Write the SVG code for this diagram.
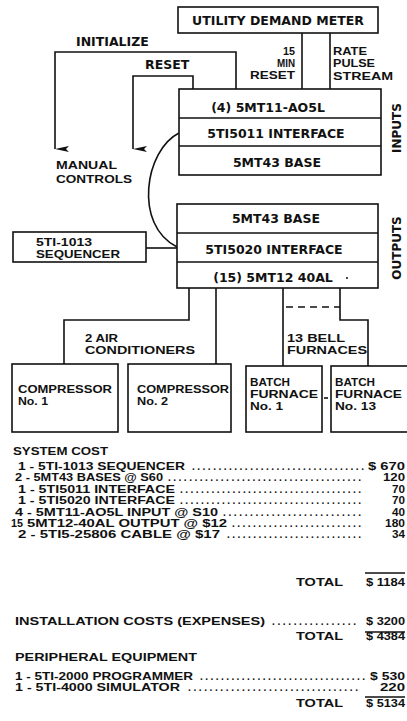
<svg xmlns="http://www.w3.org/2000/svg" width="407" height="721" viewBox="0 0 407 721">
<style>
text { font-family: "DejaVu Sans", "Liberation Sans", sans-serif; font-weight: bold; fill: #111; font-size: 12.5px; }
.s { font-family: "Liberation Sans", "DejaVu Sans", sans-serif; font-size: 10.7px; }
.c { font-family: "Liberation Sans", "DejaVu Sans", sans-serif; font-size: 10.2px; }
.m { text-anchor: middle; }
.r { font-size: 12px; text-anchor: middle; }
.box { fill: #fff; stroke: #111; stroke-width: 1.6; }
.ln { fill: none; stroke: #111; stroke-width: 1.6; }
.dash { fill: none; stroke: #111; stroke-width: 1.6; stroke-dasharray: 7 5; }
</style>
<defs>
<marker id="ar" viewBox="0 0 6 14" refX="3" refY="14" markerWidth="6" markerHeight="14" markerUnits="userSpaceOnUse" orient="auto-start-reverse">
<path d="M0,0 L3,14 L6,0 L3,3 Z" fill="#111"/>
</marker>
</defs>

<g id="connectors">
<path class="ln" d="M302,33 V89"/>
<path class="ln" d="M330,33 V89"/>
<path class="ln" d="M236,89 V52 H55 V149" marker-end="url(#ar)"/>
<path class="ln" d="M193,89 V76 H133 V149" marker-end="url(#ar)"/>
<path class="ln" d="M179,133 C145,150 133,225 177,247"/>
<path class="ln" d="M146,248 H177"/>
<path class="ln" d="M189,288 V320 H64 V364"/>
<path class="ln" d="M216,288 V364"/>
<path class="ln" d="M283,288 V366"/>
<path class="ln" d="M340,288 V320 H368 V366"/>
<path class="dash" d="M286,307 H340"/>
<path class="ln" d="M324,398 H328"/>
</g>

<g id="labels">
<text x="76" y="46">INITIALIZE</text>
<text x="145" y="69">RESET</text>
<text x="283" y="55" class="s" textLength="12" lengthAdjust="spacingAndGlyphs">15</text>
<text x="277" y="67" class="s" textLength="18" lengthAdjust="spacingAndGlyphs">MIN</text>
<text x="250" y="79" class="s" textLength="45" lengthAdjust="spacingAndGlyphs">RESET</text>
<text x="333" y="55" class="s" textLength="34" lengthAdjust="spacingAndGlyphs">RATE</text>
<text x="333" y="67" class="s" textLength="42" lengthAdjust="spacingAndGlyphs">PULSE</text>
<text x="333" y="79.5" class="s" textLength="60" lengthAdjust="spacingAndGlyphs">STREAM</text>
<text x="56" y="169" class="s" textLength="61" lengthAdjust="spacingAndGlyphs">MANUAL</text>
<text x="56" y="183" class="s" textLength="76" lengthAdjust="spacingAndGlyphs">CONTROLS</text>
<text x="85" y="342" class="s" textLength="33" lengthAdjust="spacingAndGlyphs">2 AIR</text>
<text x="85" y="354" class="s" textLength="110" lengthAdjust="spacingAndGlyphs">CONDITIONERS</text>
<text x="287" y="342" class="s" textLength="58" lengthAdjust="spacingAndGlyphs">13 BELL</text>
<text x="287" y="354" class="s" textLength="80" lengthAdjust="spacingAndGlyphs">FURNACES</text>
<text class="r" transform="translate(401,128) rotate(-90)">INPUTS</text>
<text class="r" transform="translate(401,248) rotate(-90)">OUTPUTS</text>
</g>

<g id="meter">
<rect class="box" x="178" y="7" width="200" height="26"/>
<text x="278" y="25" class="m">UTILITY DEMAND METER</text>
</g>

<g id="inputs">
<rect class="box" x="179" y="89" width="202" height="86"/>
<path class="ln" d="M179,118 H381 M179,146 H381"/>
<text x="268" y="112" class="m">(4) 5MT11-AO5L</text>
<text x="276" y="137.5" class="m">5TI5011 INTERFACE</text>
<text x="277" y="167" class="m">5MT43 BASE</text>
</g>

<g id="outputs">
<rect class="box" x="177" y="204" width="201" height="84"/>
<path class="ln" d="M177,233 H378 M177,262 H378"/>
<text x="276" y="223" class="m">5MT43 BASE</text>
<text x="274" y="253.5" class="m">5TI5020 INTERFACE</text>
<text x="273" y="282" class="m">(15) 5MT12 40AL</text>
<circle cx="347" cy="278" r="1" fill="#111"/>
</g>

<g id="sequencer">
<rect class="box" x="13" y="232" width="133" height="30"/>
<text x="36" y="246" class="s" textLength="56" lengthAdjust="spacingAndGlyphs">5TI-1013</text>
<text x="36" y="258" class="s" textLength="84" lengthAdjust="spacingAndGlyphs">SEQUENCER</text>
</g>

<g id="compressor1">
<rect class="box" x="12" y="364" width="106" height="68"/>
<text x="18" y="393" class="s" textLength="94" lengthAdjust="spacingAndGlyphs">COMPRESSOR</text>
<text x="18" y="405" class="s" textLength="30" lengthAdjust="spacingAndGlyphs">No. 1</text>
</g>

<g id="compressor2">
<rect class="box" x="128" y="364" width="103" height="68"/>
<text x="137" y="393" class="s" textLength="92" lengthAdjust="spacingAndGlyphs">COMPRESSOR</text>
<text x="137" y="405" class="s" textLength="31" lengthAdjust="spacingAndGlyphs">No. 2</text>
</g>

<g id="furnace1">
<rect class="box" x="246" y="366" width="76" height="66"/>
<text x="250" y="386" class="s" textLength="40" lengthAdjust="spacingAndGlyphs">BATCH</text>
<text x="250" y="398" class="s" textLength="68" lengthAdjust="spacingAndGlyphs">FURNACE</text>
<text x="250" y="410" class="s" textLength="33" lengthAdjust="spacingAndGlyphs">No. 1</text>
</g>

<g id="furnace13">
<rect class="box" x="331" y="366" width="85" height="66"/>
<text x="335" y="386" class="s" textLength="40" lengthAdjust="spacingAndGlyphs">BATCH</text>
<text x="335" y="398" class="s" textLength="67" lengthAdjust="spacingAndGlyphs">FURNACE</text>
<text x="335" y="410" class="s" textLength="41" lengthAdjust="spacingAndGlyphs">No. 13</text>
</g>

<g id="cost">
<text x="13" y="455" class="c" textLength="95" lengthAdjust="spacingAndGlyphs">SYSTEM COST</text>

<text x="18" y="470" class="c" textLength="167" lengthAdjust="spacingAndGlyphs">1 - 5TI-1013 SEQUENCER</text>
<text x="192" y="470" class="c" textLength="172" lengthAdjust="spacing">.................................</text>
<text x="368" y="470" class="c" textLength="37" lengthAdjust="spacingAndGlyphs">$ 670</text>

<text x="15" y="481.4" class="c" textLength="148" lengthAdjust="spacingAndGlyphs">2 - 5MT43 BASES @ S60</text>
<text x="168" y="481.4" class="c" textLength="193" lengthAdjust="spacing">.....................................</text>
<text x="383" y="481.4" class="c" textLength="22" lengthAdjust="spacingAndGlyphs">120</text>

<text x="18" y="492.8" class="c" textLength="157" lengthAdjust="spacingAndGlyphs">1 - 5TI5011 INTERFACE</text>
<text x="180" y="492.8" class="c" textLength="181" lengthAdjust="spacing">...................................</text>
<text x="392" y="492.8" class="c" textLength="13" lengthAdjust="spacingAndGlyphs">70</text>

<text x="18" y="504.2" class="c" textLength="157" lengthAdjust="spacingAndGlyphs">1 - 5TI5020 INTERFACE</text>
<text x="180" y="504.2" class="c" textLength="181" lengthAdjust="spacing">...................................</text>
<text x="392" y="504.2" class="c" textLength="13" lengthAdjust="spacingAndGlyphs">70</text>

<text x="15" y="515.6" class="c" textLength="203" lengthAdjust="spacingAndGlyphs">4 - 5MT11-AO5L INPUT @ S10</text>
<text x="223" y="515.6" class="c" textLength="138" lengthAdjust="spacing">..........................</text>
<text x="392" y="515.6" class="c" textLength="13" lengthAdjust="spacingAndGlyphs">40</text>

<text x="11" y="527" class="c" textLength="12" lengthAdjust="spacingAndGlyphs">15</text>
<text x="27" y="527" class="c" textLength="200" lengthAdjust="spacingAndGlyphs">5MT12-40AL OUTPUT @ $12</text>
<text x="232" y="527" class="c" textLength="129" lengthAdjust="spacing">.........................</text>
<text x="385" y="527" class="c" textLength="20" lengthAdjust="spacingAndGlyphs">180</text>

<text x="18" y="538.4" class="c" textLength="202" lengthAdjust="spacingAndGlyphs">2 - 5TI5-25806 CABLE @ $17</text>
<text x="227" y="538.4" class="c" textLength="134" lengthAdjust="spacing">..........................</text>
<text x="392" y="538.4" class="c" textLength="13" lengthAdjust="spacingAndGlyphs">34</text>

<path class="ln" d="M365,573 H405"/>
<text x="296" y="586" class="c" textLength="47" lengthAdjust="spacingAndGlyphs">TOTAL</text>
<text x="366" y="586" class="c" textLength="39" lengthAdjust="spacingAndGlyphs">$ 1184</text>

<text x="15" y="625" class="c" textLength="250" lengthAdjust="spacingAndGlyphs">INSTALLATION COSTS (EXPENSES)</text>
<text x="272" y="625" class="c" textLength="84" lengthAdjust="spacing">................</text>
<text x="366" y="625" class="c" textLength="39" lengthAdjust="spacingAndGlyphs">$ 3200</text>
<path class="ln" d="M365,632 H405"/>
<text x="296" y="640" class="c" textLength="47" lengthAdjust="spacingAndGlyphs">TOTAL</text>
<text x="366" y="640" class="c" textLength="39" lengthAdjust="spacingAndGlyphs">$ 4384</text>

<text x="15" y="661" class="c" textLength="182" lengthAdjust="spacingAndGlyphs">PERIPHERAL EQUIPMENT</text>
<text x="15" y="680" class="c" textLength="178" lengthAdjust="spacingAndGlyphs">1 - 5TI-2000 PROGRAMMER</text>
<text x="200" y="680" class="c" textLength="165" lengthAdjust="spacing">................................</text>
<text x="370" y="680" class="c" textLength="35" lengthAdjust="spacingAndGlyphs">$ 530</text>
<text x="15" y="691.4" class="c" textLength="165" lengthAdjust="spacingAndGlyphs">1 - 5TI-4000 SIMULATOR</text>
<text x="188" y="691.4" class="c" textLength="170" lengthAdjust="spacing">................................</text>
<text x="380" y="691.4" class="c" textLength="25" lengthAdjust="spacingAndGlyphs">220</text>
<path class="ln" d="M365,697 H405"/>
<text x="296" y="707" class="c" textLength="47" lengthAdjust="spacingAndGlyphs">TOTAL</text>
<text x="366" y="707" class="c" textLength="39" lengthAdjust="spacingAndGlyphs">$ 5134</text>
</g>
</svg>
